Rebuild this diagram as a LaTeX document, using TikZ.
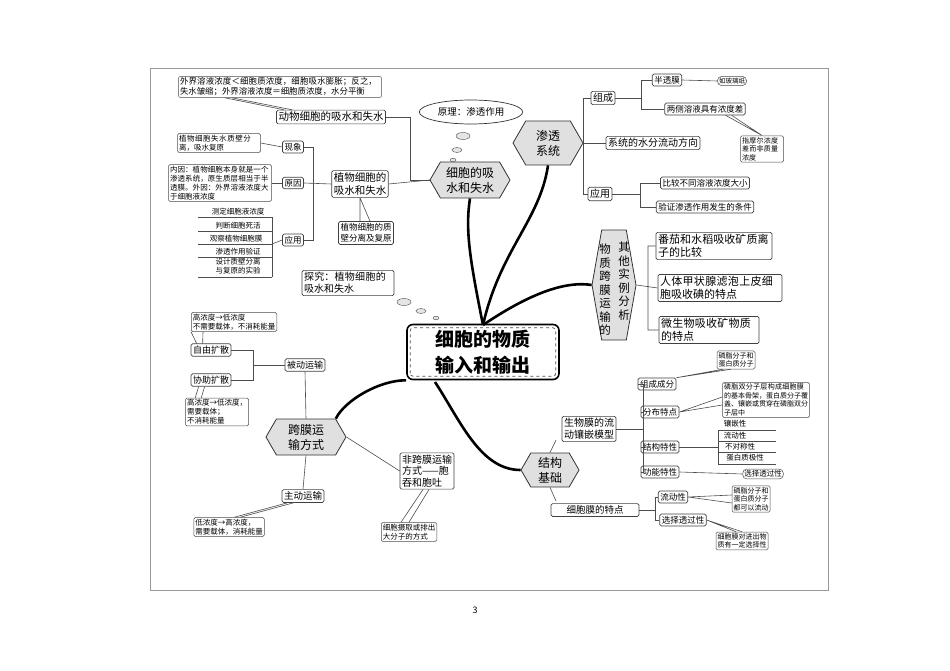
\documentclass[tikz,border=0pt]{standalone}
\usepackage{fontspec}
\setmainfont{Noto Sans CJK SC}
\XeTeXlinebreaklocale "zh"
\XeTeXlinebreakskip=0pt plus 1pt
\usetikzlibrary{shapes.symbols,shapes.geometric,calc}
\tikzset{
 bx/.style={draw=black!75,line width=0.7pt,rounded corners=1.5pt,fill=white,inner sep=2pt,font=\fontsize{10}{12}\selectfont,align=center},
 nt/.style={draw=black!70,line width=0.5pt,rounded corners=1.5pt,fill=white,inner sep=1.5pt,font=\fontsize{7.5}{9}\selectfont,align=left},
 hx/.style={draw=black!80,line width=0.8pt,fill=black!12,shape=signal,signal to=east and west,signal from=nowhere,signal pointer angle=120,inner sep=1pt,font=\fontsize{12}{15}\selectfont,align=center},
 ln/.style={draw=black!70,line width=0.6pt},
 thk/.style={line width=2.6pt,black},
 li/.style={font=\fontsize{7.5}{9}\selectfont,inner sep=1pt},
 bub/.style={draw=black!70,fill=black!10,ellipse,inner sep=0pt},
}
\begin{document}
\begin{tikzpicture}[x=1pt,y=-1pt]
\useasboundingbox (0,0) rectangle (950,671);
\draw[black!40,line width=0.5pt] (150,68) rectangle (828,590);
\node[font=\fontsize{9}{10}\selectfont] (pg) at (475,610) {3};
% ===== main =====
\node[draw=black,line width=1.6pt,rounded corners=6pt,fill=white,minimum width=152pt,minimum height=55pt] (main) at (483,352) {};
\draw[dashed,black!70,line width=0.7pt,rounded corners=3pt] ($(main.south west)+(4,-4)$) rectangle ($(main.north east)+(-4,4)$);
\node[font=\fontsize{19}{26}\selectfont\bfseries,align=center] (maint) at (483,352) {细胞的物质\\输入和输出};
% ===== hexes =====
\node[hx,minimum width=80pt,minimum height=36pt] (h1) at (470,180) {};
\node[font=\fontsize{12}{15}\selectfont,align=center] (h1t) at (470,180) {细胞的吸\\水和失水};
\node[hx,minimum width=70pt,minimum height=44pt] (h2) at (548,143) {};
\node[font=\fontsize{12}{15}\selectfont,align=center] (h2t) at (548,143) {渗透\\系统};
\node[hx,signal pointer angle=160,minimum width=44pt,minimum height=110pt] (h3) at (614,285) {};
\node[font=\fontsize{11.5}{13.5}\selectfont,align=center] (h3a) at (605,290) {物\\质\\跨\\膜\\运\\输\\的};
\node[font=\fontsize{11.5}{13.5}\selectfont,align=center] (h3b) at (624,281) {其\\他\\实\\例\\分\\析};
\node[hx,minimum width=80pt,minimum height=36pt] (h4) at (306,437) {};
\node[font=\fontsize{12}{15}\selectfont,align=center] (h4t) at (306,437) {跨膜运\\输方式};
\node[hx,minimum width=58pt,minimum height=34pt] (h5) at (550,470) {};
\node[font=\fontsize{12}{15}\selectfont,align=center] (h5t) at (550,470) {结构\\基础};
% thick curves
\coordinate (mt) at (483,325);
\draw[thk] (mt) .. controls (470,260) and (465,230) .. (h1.south);
\draw[thk] (mt) .. controls (500,250) and (540,220) .. (h2.south);
\draw[thk] (mt) .. controls (520,300) and (560,280) .. (h3.west);
\draw[thk] (main.south west) .. controls (380,380) and (345,400) .. (h4.north east);
\draw[thk] (435,382) .. controls (460,420) and (480,470) .. (h5.west);
% ===== top-left =====
\node[nt,text width=200pt,font=\fontsize{8.4}{9.8}\selectfont] (n1) at (280,87) {外界溶液浓度＜细胞质浓度，细胞吸水膨胀；反之，失水皱缩；外界溶液浓度＝细胞质浓度，水分平衡};
\node[bx,font=\fontsize{10.5}{12}\selectfont] (a1) at (331,117) {动物细胞的吸水和失水};
\draw[ln] (a1.north west)++(8,0) -- ($(n1.south west)+(47,0)$) (a1.north west)++(16,0) -- ($(n1.south west)+(54,0)$);
\node[bx,font=\fontsize{10.5}{13}\selectfont] (b1) at (360,184) {植物细胞的\\吸水和失水};
\draw[ln] (a1.east) -- (410,117) |- (h1.west);
\draw[ln] (b1.east) -- (h1.west);
\node[bx,font=\fontsize{8.5}{10}\selectfont] (xx) at (293,147) {现象};
\node[bx,font=\fontsize{8.5}{10}\selectfont] (yy) at (293,183) {原因};
\node[bx,font=\fontsize{8.5}{10}\selectfont] (yz) at (293,240) {应用};
\draw[ln] (xx.east) -- (313,147) |- (yz.east);
\draw[ln] (yy.east) -- (b1.west);
\node[nt,text width=80pt] (n2) at (219,143) {植物细胞失水质壁分离，吸水复原};
\draw[ln] (n2.east) -- (xx.west);
\node[nt,text width=100pt] (n3) at (220,183) {内因：植物细胞本身就是一个渗透系统，原生质层相当于半透膜。外因：外界溶液浓度大于细胞液浓度};
\draw[ln] (n3.east) -- (yy.west);
\node[li] (l1) at (238,212) {测定细胞液浓度};
\node[li] (l2) at (238,226) {判断细胞死活};
\node[li] (l3) at (236,239) {观察植物细胞膜};
\node[li] (l4) at (238,252) {渗透作用验证};
\node[li,align=center] (l5) at (238,266) {设计质壁分离\\与复原的实验};
\foreach \y in {217,231,244,257,277} \draw[ln,line width=0.4pt] (198,\y) -- (272,\y);
\draw[ln] (272,217) -- (272,277);
\draw[ln] (272,244) -- (yz.west);
\node[bx,font=\fontsize{8.5}{11}\selectfont] (b2) at (366,233) {植物细胞的质\\壁分离及复原};
\draw[ln] (b2.north)++(-6,0) -- (b1.south) (b2.north)++(4,0) -- (b1.south);
% ===== principle =====
\node[draw=black!80,line width=0.7pt,ellipse,fill=white,minimum width=100pt,minimum height=24pt,font=\fontsize{9.5}{11}\selectfont] (pr) at (471,112) {原理：渗透作用};
\node[bub,minimum width=14pt,minimum height=7pt] (p1) at (463,136) {};
\node[bub,minimum width=10pt,minimum height=5pt] (p2) at (457,150) {};
\node[bub,minimum width=6pt,minimum height=3.5pt] (p3) at (453,160) {};
% ===== osmosis system =====
\node[bx] (c1) at (603,98) {组成};
\node[bx] (c2) at (653,143) {系统的水分流动方向};
\node[bx] (c3) at (600,194) {应用};
\draw[ln] (c1.west) -- (583,98) |- (c3.west);
\draw[ln] (h2.east) -- (c2.west);
\node[bx,font=\fontsize{8.5}{10}\selectfont] (d1) at (667,80) {半透膜};
\node[bx,font=\fontsize{8.5}{10}\selectfont] (d2) at (705,109) {两侧溶液具有浓度差};
\draw[ln] (d1.west) -- (641,80) |- (d2.west) (641,98) -- (c1.east);
\node[nt,rounded corners=4pt,font=\fontsize{6.5}{8}\selectfont] (e1) at (732,81) {如玻璃纸};
\draw[ln] (d1.east) -- (e1.west);
\node[nt,text width=40pt,font=\fontsize{7}{8.5}\selectfont] (e2) at (762,149) {指摩尔浓度差而非质量浓度};
\draw[ln] (d2.south east)++(-20,0) -- (e2.north) (d2.south east)++(-14,0) -- (e2.north);
\node[bx,font=\fontsize{8.5}{10}\selectfont] (d3) at (705,183) {比较不同溶液浓度大小};
\node[bx,font=\fontsize{8.5}{10}\selectfont] (d4) at (705,207) {验证渗透作用发生的条件};
\draw[ln] (d3.west) -- (640,183) |- (d4.west) (640,194) -- (c3.east);
% ===== other examples =====
\node[bx,text width=112pt,align=left,font=\fontsize{11}{13}\selectfont] (f1) at (714,246) {番茄和水稻吸收矿质离子的比较};
\node[bx,text width=120pt,align=left,font=\fontsize{11}{13}\selectfont] (f2) at (720,288) {人体甲状腺滤泡上皮细胞吸收碘的特点};
\node[bx,text width=96pt,align=left,font=\fontsize{11}{13}\selectfont] (f3) at (709,330) {微生物吸收矿物质的特点};
\draw[ln] (f1.west) -- (648,246) |- (f3.west) (h3.east) -- (f2.west);
% ===== explore =====
\node[bx,text width=88pt,align=left,font=\fontsize{10}{12}\selectfont] (ex) at (348,283) {探究：植物细胞的吸水和失水};
\node[bub,minimum width=14pt,minimum height=7pt] (q1) at (404,302) {};
\node[bub,minimum width=10pt,minimum height=5pt] (q2) at (421,311) {};
\node[bub,minimum width=6pt,minimum height=3.5pt] (q3) at (436,318) {};
% ===== left transport =====
\node[bx,font=\fontsize{9}{11}\selectfont] (g1) at (305,365) {被动运输};
\node[bx,font=\fontsize{9}{11}\selectfont] (g2) at (211,350) {自由扩散};
\node[bx,font=\fontsize{9}{11}\selectfont] (g3) at (211,380) {协助扩散};
\draw[ln] (g2.east) -- (253,350) |- (g3.east) (253,365) -- (g1.west);
\node[bx,font=\fontsize{9.5}{11}\selectfont] (g4) at (303,496) {主动运输};
\draw[ln] (g1.south) -- (h4.north) (h4.south) -- (g4.north);
\node[nt] (n4) at (234,322) {高浓度→低浓度\\不需要载体，不消耗能量};
\draw[ln] (g2.north west)++(6,0) -- (n4.south west) (g2.north west)++(12,0) -- ($(n4.south west)+(12,0)$);
\node[nt] (n5) at (217,412) {高浓度→低浓度，\\需要载体；\\不消耗能量};
\draw[ln] (g3.south west)++(8,0) -- ($(n5.north west)+(10,0)$) (g3.south west)++(14,0) -- ($(n5.north west)+(16,0)$);
\node[nt] (n6) at (229,527) {低浓度→高浓度，\\需要载体，消耗能量};
\draw[ln] (g4.south west)++(6,0) -- ($(n6.north east)+(-30,0)$) (g4.south west)++(12,0) -- ($(n6.north east)+(-24,0)$);
\node[bx,align=left,font=\fontsize{10}{11.5}\selectfont] (g5) at (427,471) {非跨膜运输\\方式——胞\\吞和胞吐};
\draw[ln] (h4.east) -- (g5.west);
\node[nt] (n7) at (409,532) {细胞摄取或排出\\大分子的方式};
\draw[ln] (g5.south)++(-4,0) -- ($(n7.north)+(-8,0)$) (g5.south)++(2,0) -- (n7.north);
% ===== structure basis =====
\node[bx,font=\fontsize{10}{12}\selectfont] (k1) at (589,429) {生物膜的流\\动镶嵌模型};
\node[bx,font=\fontsize{9.5}{11}\selectfont,minimum width=88pt] (k2) at (595,510) {细胞膜的特点};
\draw[ln] (556,440) -- (h5.north) (h5.south) -- (556,501);
\node[bx,font=\fontsize{8.5}{10}\selectfont] (m1) at (657,384) {组成成分};
\node[bx,font=\fontsize{8.5}{10}\selectfont] (m2) at (660,412) {分布特点};
\node[bx,font=\fontsize{8.5}{10}\selectfont] (m3) at (660,447) {结构特性};
\node[bx,font=\fontsize{8.5}{10}\selectfont] (m4) at (660,472) {功能特性};
\draw[ln] (m1.west) -- (643,384) |- (m4.west) (643,412) -- (m2.west) (643,447) -- (m3.west) (643,429) -- (k1.east);
\node[nt,font=\fontsize{7}{8.5}\selectfont] (o1) at (736,360) {磷脂分子和\\蛋白质分子};
\draw[ln] (m1.north east) -- ($(o1.south west)+(6,0)$) (m1.north east) -- ($(o1.south west)+(14,0)$);
\node[nt,text width=84pt,font=\fontsize{7}{8.5}\selectfont] (o2) at (766,400) {磷脂双分子层构成细胞膜的基本骨架，蛋白质分子覆盖、镶嵌或贯穿在磷脂双分子层中};
\draw[ln] (m2.east) -- ($(o2.west)+(0,-3)$) (m2.east) -- ($(o2.west)+(0,5)$);
\node[li] (r1) at (735,424) {镶嵌性};
\node[li] (r2) at (735,436) {流动性};
\node[li] (r3) at (740,447) {不对称性};
\node[li] (r4) at (745,458) {蛋白质极性};
\foreach \y in {430,441,452,464} \draw[ln,line width=0.4pt] (718,\y) -- (776,\y);
\draw[ln] (718,430) -- (718,464) (m3.east) -- (718,447);
\node[nt,rounded corners=4pt] (o3) at (763,474) {选择透过性};
\draw[ln] (m4.east) -- (o3.west);
\node[bx,font=\fontsize{8.5}{10}\selectfont] (s1) at (673,497) {流动性};
\node[bx,font=\fontsize{8.5}{10}\selectfont] (s2) at (683,520) {选择透过性};
\draw[ln] (s1.west) -- (655,497) |- (s2.west) (655,510) -- (k2.east);
\node[nt,font=\fontsize{7}{8.5}\selectfont] (o4) at (751,499) {磷脂分子和\\蛋白质分子\\都可以流动};
\draw[ln] (s1.east) -- ($(o4.west)+(0,-4)$) (s1.east) -- ($(o4.west)+(0,4)$);
\node[nt,font=\fontsize{7}{8.5}\selectfont] (o5) at (742,541) {细胞膜对进出物\\质有一定选择性};
\draw[ln] (s2.east) -- ($(o5.north)+(-6,0)$) (s2.east) -- (o5.north);
\end{tikzpicture}
\end{document}
